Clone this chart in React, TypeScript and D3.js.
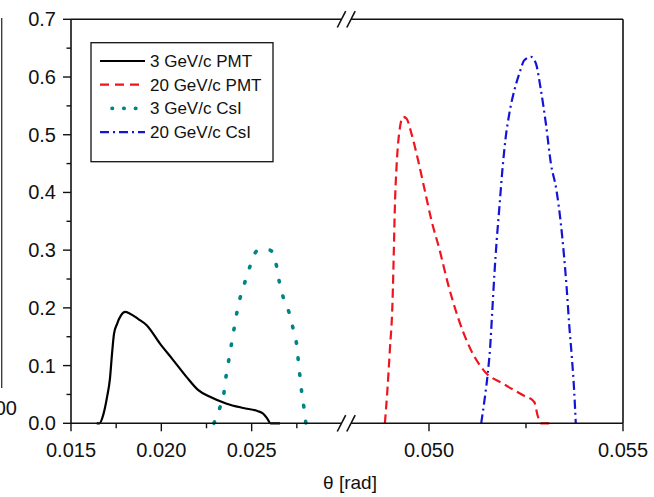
import React from 'react';
import * as d3 from 'd3';

// 3 GeV/c PMT (solid black)
const pmt3Theta = [0.016422, 0.016577, 0.016788, 0.016992, 0.017158, 0.017269, 0.01738, 0.017546, 0.017767, 0.017988, 0.018265, 0.018708, 0.019189, 0.019925, 0.020645, 0.021403, 0.022028, 0.022692, 0.023617, 0.024535, 0.025349, 0.025625, 0.025847, 0.02604, 0.026566];
const pmt3Val = [0, 0, 0.015, 0.045, 0.078, 0.12, 0.155, 0.172, 0.187, 0.193, 0.19, 0.181, 0.17, 0.138, 0.11, 0.08, 0.058, 0.046, 0.034, 0.0265, 0.021, 0.017, 0.009, 0, 0];

// 3 GeV/c CsI (teal dots)
const csi3Theta = [0.02291, 0.02325, 0.02347, 0.02358, 0.02373, 0.02387, 0.02402, 0.02417, 0.02435, 0.02461, 0.02491, 0.02531, 0.02601, 0.02638, 0.02653, 0.02675, 0.02708, 0.0273, 0.02749, 0.02758, 0.02767, 0.02777, 0.02789, 0.028];
const csi3Val = [0, 0.028, 0.054, 0.081, 0.109, 0.135, 0.163, 0.19, 0.216, 0.243, 0.272, 0.299, 0.3, 0.272, 0.245, 0.218, 0.191, 0.163, 0.136, 0.109, 0.082, 0.054, 0.028, 0];

// 20 GeV/c PMT (red dashes)
const pmt20Theta = [0.048863, 0.048922, 0.048991, 0.049061, 0.049094, 0.04912, 0.049163, 0.04923, 0.049333, 0.04942, 0.049548, 0.049718, 0.04989, 0.050062, 0.050275, 0.050488, 0.050744, 0.051045, 0.05143, 0.051899, 0.052413, 0.052713, 0.052798, 0.052885, 0.053098];
const pmt20Val = [0, 0.052, 0.127, 0.213, 0.3, 0.375, 0.444, 0.502, 0.531, 0.528, 0.502, 0.456, 0.404, 0.352, 0.3, 0.242, 0.184, 0.132, 0.09, 0.069, 0.049, 0.037, 0.014, 0, 0];

// 20 GeV/c CsI (blue dash-dot)
const csi20Theta = [0.051345, 0.05143, 0.051514, 0.051576, 0.051627, 0.051686, 0.051745, 0.051815, 0.051884, 0.051969, 0.052071, 0.0522, 0.052328, 0.052456, 0.052628, 0.052757, 0.052885, 0.053013, 0.053142, 0.053285, 0.053398, 0.053483, 0.053552, 0.053611, 0.053681, 0.05374, 0.053783];
const csi20Val = [0, 0.04, 0.086, 0.132, 0.19, 0.259, 0.317, 0.375, 0.433, 0.491, 0.537, 0.577, 0.606, 0.629, 0.635, 0.623, 0.577, 0.519, 0.45, 0.404, 0.346, 0.288, 0.231, 0.173, 0.115, 0.058, 0];

const legendLabels = ['3 GeV/c PMT', '20 GeV/c PMT', '3 GeV/c CsI', '20 GeV/c CsI'];

const xLeftMajor = [0.015, 0.02, 0.025];
const xLeftMinor = [0.0175, 0.0225, 0.0275];
const xRightMajor = [0.05, 0.055];
const xRightMinor = [0.0525];
const yMajor = [0, 0.1, 0.2, 0.3, 0.4, 0.5, 0.6, 0.7];
const yMinor = [0.05, 0.15, 0.25, 0.35, 0.45, 0.55, 0.65];

const FONT = 'Liberation Sans, Arial, sans-serif';

export default function App() {
  const width = 654;
  const height = 497;

  const xLeft = d3.scaleLinear().domain([0.015, 0.03]).range([71, 342]);
  const xRight = d3.scaleLinear().domain([0.048, 0.055]).range([351.4, 623]);
  const y = d3.scaleLinear().domain([0, 0.7]).range([423.3, 19.3]);

  const x0 = xLeft.range()[0];
  const x1 = xRight.range()[1];
  const yBot = y(0);
  const yTop = y(0.7);
  const brk1 = 341.5;
  const brk2 = 351;

  const fmtX = d3.format('.3f');
  const fmtY = d3.format('.1f');

  const mkLine = (xs: d3.ScaleLinear<number, number>) =>
    d3.line<[number, number]>()
      .x(d => xs(d[0]))
      .y(d => y(d[1]))
      .curve(d3.curveMonotoneX);

  const zip = (a: number[], b: number[]) => a.map((v, i) => [v, b[i]] as [number, number]);

  const series = [
    { d: mkLine(xLeft)(zip(pmt3Theta, pmt3Val)), color: '#000000', dash: undefined, cap: 'butt', w: 2.2 },
    { d: mkLine(xRight)(zip(pmt20Theta, pmt20Val)), color: '#f0141e', dash: '9 5', cap: 'butt', w: 2.2 },
    { d: mkLine(xLeft)(zip(csi3Theta, csi3Val)), color: '#008585', dash: '1.5 14.5', cap: 'round', w: 3.6 },
    { d: mkLine(xRight)(zip(csi20Theta, csi20Val)), color: '#1414d6', dash: '9 4 2 4', cap: 'butt', w: 2.2 },
  ];

  const legendStyles = [
    { color: '#000000', dash: undefined, cap: 'butt', w: 2.2, from: 100, to: 145 },
    { color: '#f0141e', dash: '9 6', cap: 'butt', w: 2.2, from: 100, to: 145 },
    { color: '#008585', dash: '0.5 11.2', cap: 'round', w: 3.6, from: 112, to: 137 },
    { color: '#1414d6', dash: '9 4 2 4', cap: 'butt', w: 2.2, from: 100, to: 145 },
  ];

  const breakMark = (cx: number, cy: number, key: string) => (
    <line key={key} x1={cx - 4.2} y1={cy + 8.2} x2={cx + 4.2} y2={cy - 8.2} stroke="#111" strokeWidth={1.6} />
  );

  return (
    <svg width={width} height={height} style={{ position: 'absolute', left: 0, top: 0, background: '#fff' }}>
      {/* cropped neighbour panel remnants */}
      <line x1={1.7} y1={18} x2={1.7} y2={388} stroke="#333" strokeWidth={1.3} />
      <text x={17} y={415} textAnchor="end" fontFamily={FONT} fontSize={20} fill="#111">00</text>

      {/* curves */}
      {series.map((s, i) => (
        <path key={i} d={s.d || ''} fill="none" stroke={s.color} strokeWidth={s.w}
          strokeDasharray={s.dash} strokeLinecap={s.cap as any} strokeLinejoin="round" />
      ))}

      {/* frame */}
      <g stroke="#111" strokeWidth={1.6} fill="none">
        <line x1={x0} y1={yTop} x2={x0} y2={yBot} />
        <line x1={x1} y1={yTop} x2={x1} y2={yBot} />
        <line x1={x0} y1={yBot} x2={brk1} y2={yBot} />
        <line x1={brk2} y1={yBot} x2={x1} y2={yBot} />
        <line x1={x0} y1={yTop} x2={brk1} y2={yTop} />
        <line x1={brk2} y1={yTop} x2={x1} y2={yTop} />
      </g>
      {breakMark(brk1, yBot, 'b1')}
      {breakMark(brk2, yBot, 'b2')}
      {breakMark(brk1, yTop, 't1')}
      {breakMark(brk2, yTop, 't2')}

      {/* x ticks */}
      <g stroke="#111" strokeWidth={1.4}>
        {xLeftMajor.map(v => <line key={'lm' + v} x1={xLeft(v)} x2={xLeft(v)} y1={yBot} y2={yBot + 8} />)}
        {xLeftMinor.map(v => <line key={'ln' + v} x1={xLeft(v)} x2={xLeft(v)} y1={yBot} y2={yBot + 5} />)}
        {xRightMajor.map(v => <line key={'rm' + v} x1={xRight(v)} x2={xRight(v)} y1={yBot} y2={yBot + 8} />)}
        {xRightMinor.map(v => <line key={'rn' + v} x1={xRight(v)} x2={xRight(v)} y1={yBot} y2={yBot + 5} />)}
        {yMajor.map(v => <line key={'ym' + v} x1={x0 - 8} x2={x0} y1={y(v)} y2={y(v)} />)}
        {yMinor.map(v => <line key={'yn' + v} x1={x0 - 4.5} x2={x0} y1={y(v)} y2={y(v)} />)}
      </g>
      <g fontFamily={FONT} fontSize={20} fill="#111" textAnchor="middle">
        {xLeftMajor.map(v => <text key={'lt' + v} x={xLeft(v)} y={457}>{fmtX(v)}</text>)}
        {xRightMajor.map(v => <text key={'rt' + v} x={xRight(v)} y={457}>{fmtX(v)}</text>)}
      </g>
      <g fontFamily={FONT} fontSize={20} fill="#111" textAnchor="end">
        {yMajor.map(v => <text key={'yt' + v} x={56} y={y(v)} dy="0.35em">{fmtY(v)}</text>)}
      </g>
      <text x={350} y={489} textAnchor="middle" fontFamily={FONT} fontSize={19} fill="#111">θ [rad]</text>

      {/* legend */}
      <rect x={91} y={42.7} width={182} height={119} fill="#fff" stroke="#111" strokeWidth={1.3} />
      {legendLabels.map((lab, i) => {
        const ly = 61 + i * 23.7;
        const s = legendStyles[i];
        return (
          <g key={lab}>
            <line x1={s.from} x2={s.to} y1={ly} y2={ly} stroke={s.color} strokeWidth={s.w}
              strokeDasharray={s.dash} strokeLinecap={s.cap as any} />
            <text x={150} y={ly} dy="0.35em" fontFamily={FONT} fontSize={17} fill="#111">{lab}</text>
          </g>
        );
      })}
    </svg>
  );
}
